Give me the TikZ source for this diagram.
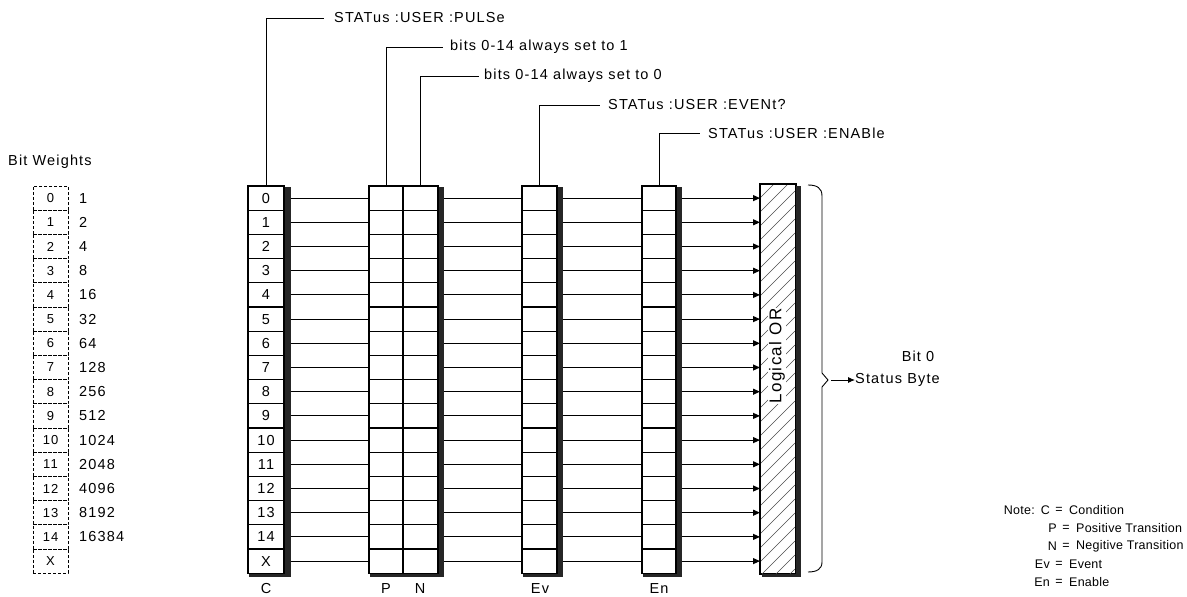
\documentclass[tikz,border=0pt]{standalone}
\usepackage{fontspec}
\setmainfont[LetterSpace=8]{Liberation Sans}
\newfontfamily\notefont[LetterSpace=2]{Liberation Sans}
\usetikzlibrary{arrows.meta}
\begin{document}
\begin{tikzpicture}[x=1pt,y=-1pt,
  cell/.style={draw, line width=1.1pt, minimum width=#1, minimum height=24.2pt, inner sep=0pt, font=\fontsize{14.5}{14}\selectfont},
  wcell/.style={draw, line width=0.7pt, densely dashed, minimum width=35pt, minimum height=24.2pt, inner sep=0pt, font=\fontsize{13}{13}\selectfont},
  conn/.style={line width=1.1pt},
  lead/.style={line width=0.7pt},
  lbl/.style={inner sep=0pt, font=\fontsize{14.5}{14}\selectfont},
  note/.style={inner sep=0pt, font=\notefont\fontsize{12.5}{13}\selectfont},
  shade/.style={fill=black!85},
  arr/.style={-{Triangle[length=7pt,width=6pt]}}]
\useasboundingbox (0,0) rectangle (1187,597);

% logical OR box
\node[draw, line width=1.1pt, minimum width=35pt, minimum height=389pt, inner sep=0pt, anchor=north west] (orbox) at (760,184) {};
\begin{scope}
  \clip (orbox.south west) rectangle (orbox.north east);
  \foreach \k in {0,...,30} {
    \draw[black!70, line width=0.6pt] (760,184+14*\k) -- (795,149+14*\k);
  }
\end{scope}
\node[rotate=90, fill=white, inner sep=1pt, font=\fontsize{17}{17}\selectfont] (ortext) at (777,356) {Logical OR};
\draw[line width=1.1pt] (orbox.south west) rectangle (orbox.north east);
\fill[shade] ([yshift=-2pt]orbox.north east) rectangle ([xshift=5pt,yshift=-3pt]orbox.south east);
\fill[shade] ([xshift=2pt]orbox.south west) rectangle ([xshift=5pt,yshift=-3pt]orbox.south east);

% rows
\foreach \lab/\wt [count=\k from 0] in {0/1,1/2,2/4,3/8,4/16,5/32,6/64,7/128,8/256,9/512,10/1024,11/2048,12/4096,13/8192,14/16384,X/{}} {
  \pgfmathsetmacro\yy{186+24.2*(\k+0.5)}
  \node[wcell] (w\k) at (50.5,\yy) {\lab};
  \node[lbl, anchor=west] (wv\k) at (79,\yy) {\wt};
  \node[cell=36pt] (c\k) at (266,\yy) {\lab};
  \node[cell=34pt] (p\k) at (386,\yy) {};
  \node[cell=35pt] (n\k) at (420.5,\yy) {};
  \node[cell=35pt] (ev\k) at (539.5,\yy) {};
  \node[cell=34pt] (en\k) at (659,\yy) {};
  \draw[conn] ([xshift=6pt]c\k.east) -- (p\k.west);
  \draw[conn] ([xshift=5pt]n\k.east) -- (ev\k.west);
  \draw[conn] ([xshift=5pt]ev\k.east) -- (en\k.west);
  \draw[conn, arr] ([xshift=5pt]en\k.east) -- (en\k.east -| orbox.west);
}

% column shadows
\fill[shade] ([yshift=-2pt]c0.north east) rectangle ([xshift=6pt,yshift=-3pt]c15.south east);
\fill[shade] ([xshift=2pt]c15.south west) rectangle ([xshift=6pt,yshift=-3pt]c15.south east);
\fill[shade] ([yshift=-2pt]n0.north east) rectangle ([xshift=5pt,yshift=-3pt]n15.south east);
\fill[shade] ([xshift=2pt]p15.south west) rectangle ([xshift=5pt,yshift=-3pt]n15.south east);
\fill[shade] ([yshift=-2pt]ev0.north east) rectangle ([xshift=5pt,yshift=-3pt]ev15.south east);
\fill[shade] ([xshift=2pt]ev15.south west) rectangle ([xshift=5pt,yshift=-3pt]ev15.south east);
\fill[shade] ([yshift=-2pt]en0.north east) rectangle ([xshift=5pt,yshift=-3pt]en15.south east);
\fill[shade] ([xshift=2pt]en15.south west) rectangle ([xshift=5pt,yshift=-3pt]en15.south east);

% bit weights title
\node[lbl, anchor=west] (bwt) at (8,162) {Bit Weights};

% top labels and leaders
\node[lbl, anchor=west] (l1) at (334,18) {STATus :USER :PULSe};
\node[lbl, anchor=west] (l2) at (450,47) {bits 0-14 always set to 1};
\node[lbl, anchor=west] (l3) at (484,76) {bits 0-14 always set to 0};
\node[lbl, anchor=west] (l4) at (608,105) {STATus :USER :EVENt?};
\node[lbl, anchor=west] (l5) at (708,133) {STATus :USER :ENABle};
\draw[lead] (c0.north) |- ([xshift=-10pt]l1.west);
\draw[lead] (p0.north) |- ([xshift=-7pt]l2.west);
\draw[lead] (n0.north) |- ([xshift=-5pt]l3.west);
\draw[lead] (ev0.north) |- ([xshift=-8pt]l4.west);
\draw[lead] (en0.north) |- ([xshift=-8pt]l5.west);

% bottom labels
\node[lbl] (bc) at (266,589) {C};
\node[lbl] (bp) at (386,589) {P};
\node[lbl] (bn) at (420,589) {N};
\node[lbl] (bev) at (540,589) {Ev};
\node[lbl] (ben) at (659,589) {En};

% brace and output
\draw[line width=0.9pt] (808,185) .. controls (817,185) and (822,188) .. (822,196) -- (822,373) -- (828,380) -- (822,387) -- (822,562) .. controls (822,569) and (817,572) .. (808,572);
\coordinate (btip) at (831,380);
\node[lbl, anchor=west] (sb) at (855,380) {Status Byte};
\node[lbl] (b0) at (918,356) {Bit 0};
\draw[line width=0.9pt, -{Latex[length=7pt,width=6pt]}] (btip) -- (sb.west);

% note
\node[note, anchor=east] (n1a) at (1050,510) {Note:\hspace{6pt}C};
\node[note] (n1b) at (1059,510) {=};
\node[note, anchor=west] (n1c) at (1069,510) {Condition};
\node[note, anchor=east] (n2a) at (1057,528) {P};
\node[note] (n2b) at (1066,528) {=};
\node[note, anchor=west] (n2c) at (1076,528) {Positive Transition};
\node[note, anchor=east] (n3a) at (1057,546) {N};
\node[note] (n3b) at (1066,546) {=};
\node[note, anchor=west] (n3c) at (1076,546) {Negitive Transition};
\node[note, anchor=east] (n4a) at (1050,564) {Ev};
\node[note] (n4b) at (1059,564) {=};
\node[note, anchor=west] (n4c) at (1069,564) {Event};
\node[note, anchor=east] (n5a) at (1050,582) {En};
\node[note] (n5b) at (1059,582) {=};
\node[note, anchor=west] (n5c) at (1069,582) {Enable};
\end{tikzpicture}
\end{document}
